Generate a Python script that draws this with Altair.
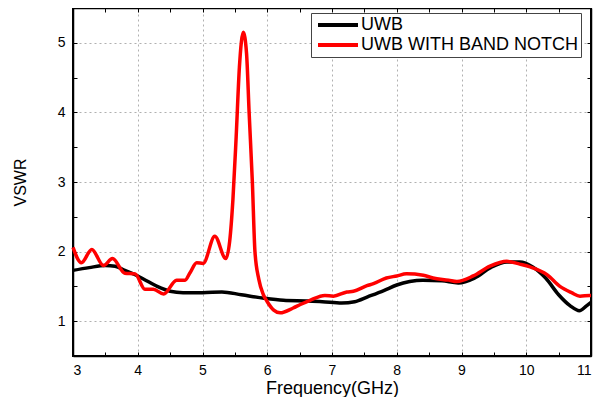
import altair as alt
import pandas as pd

series_names = ["UWB", "UWB WITH BAND NOTCH"]

uwb_freq = [3.0, 3.25, 3.5, 3.65, 3.8, 4.0, 4.1, 4.3, 4.5, 4.7, 5.0, 5.3, 5.6, 5.95,
            6.25, 6.6, 6.85, 7.15, 7.35, 7.55, 7.8, 8.0, 8.2, 8.4, 8.7, 8.95, 9.2,
            9.45, 9.7, 9.9, 10.1, 10.3, 10.5, 10.68, 10.82, 10.93, 11.0]
uwb_vswr = [1.73, 1.77, 1.80, 1.79, 1.73, 1.65, 1.60, 1.50, 1.43, 1.41, 1.41, 1.42, 1.38, 1.33,
            1.30, 1.29, 1.28, 1.26, 1.28, 1.35, 1.44, 1.52, 1.57, 1.59, 1.58, 1.55, 1.62,
            1.77, 1.85, 1.85, 1.78, 1.62, 1.38, 1.22, 1.15, 1.22, 1.27]

notch_freq = [3.0, 3.13, 3.29, 3.47, 3.61, 3.80, 3.96, 4.11, 4.24, 4.40, 4.60, 4.73, 4.81,
              4.91, 5.01, 5.19, 5.36, 5.42, 5.47, 5.52, 5.57, 5.63, 5.68, 5.72,
              5.77, 5.81, 5.87, 5.94, 6.0, 6.1, 6.2, 6.4, 6.51, 6.66, 6.89, 7.02, 7.23,
              7.33, 7.54, 7.64, 7.84, 8.0, 8.15, 8.41, 8.56, 8.8, 8.93, 9.18, 9.44, 9.7,
              9.9, 10.06, 10.32, 10.52, 10.7, 10.83, 10.98, 11.0]
notch_vswr = [2.06, 1.84, 2.03, 1.80, 1.90, 1.69, 1.68, 1.46, 1.46, 1.39, 1.59, 1.59, 1.70,
              1.84, 1.83, 2.22, 1.90, 2.15, 2.75, 3.65, 4.65, 5.15, 4.85, 4.0,
              3.0, 2.0, 1.6, 1.38, 1.28, 1.16, 1.12, 1.19, 1.24, 1.30, 1.37, 1.36, 1.42,
              1.43, 1.51, 1.54, 1.62, 1.65, 1.68, 1.66, 1.62, 1.59, 1.57, 1.65, 1.79, 1.86,
              1.82, 1.78, 1.67, 1.50, 1.41, 1.36, 1.37, 1.37]

x_ticks = [3 + 0.5 * i for i in range(17)]
y_ticks = [1 + 0.5 * i for i in range(9)]
x_major = [3, 4, 5, 6, 7, 8, 9, 10, 11]
y_major = [1, 2, 3, 4, 5]

df = pd.concat([
    pd.DataFrame({"freq": uwb_freq, "vswr": uwb_vswr, "series": series_names[0]}),
    pd.DataFrame({"freq": notch_freq, "vswr": notch_vswr, "series": series_names[1]}),
], ignore_index=True)

major_only = "datum.value % 1 === 0 ? format(datum.value, 'd') : ''"

xscale = alt.Scale(domain=[3, 11], nice=False, zero=False)
yscale = alt.Scale(domain=[0.5, 5.5], nice=False, zero=False)

lines = alt.Chart(df).mark_line(strokeWidth=3.5, interpolate="monotone").encode(
    x=alt.X("freq:Q", scale=xscale,
            axis=alt.Axis(title="Frequency(GHz)", values=x_ticks, labelExpr=major_only,
                          grid=False, tickSize={"expr": "-4"},
                          labelPadding=11, titlePadding=2, titleFontSize=18,
                          labelOverlap=False)),
    y=alt.Y("vswr:Q", scale=yscale,
            axis=alt.Axis(title="VSWR", values=y_ticks, labelExpr=major_only,
                          grid=False, tickSize={"expr": "-4"},
                          labelPadding=12, titlePadding=29, titleFontSize=16,
                          labelOverlap=False)),
    color=alt.Color("series:N",
                    scale=alt.Scale(domain=series_names, range=["#000000", "#ff0000"]),
                    legend=alt.Legend(title=None, orient="none", legendX=238, legendY=5,
                                      symbolType="M-1,0L7,0", symbolSize=100,
                                      symbolStrokeWidth=4, symbolFillColor="transparent",
                                      labelFontSize=18,
                                      labelOffset=29, padding=3, rowPadding=2,
                                      labelLimit=0,
                                      strokeColor="#444444", fillColor="#ffffff",
                                      labelColor="#000000")),
)

frame = alt.Chart(df).mark_point(opacity=0).encode(
    x=alt.X("freq:Q", scale=xscale,
            axis=alt.Axis(orient="top", values=x_major, labels=False, grid=True,
                          ticks=False, domain=False, title=None)),
    y=alt.Y("vswr:Q", scale=yscale,
            axis=alt.Axis(orient="right", values=y_major, labels=False, grid=True,
                          ticks=False, domain=False, title=None)),
)

frame2 = alt.Chart(df).mark_point(opacity=0).encode(
    x=alt.X("freq:Q", scale=xscale,
            axis=alt.Axis(orient="top", values=x_ticks, labels=False, grid=False,
                          title=None, tickSize={"expr": "-4"})),
    y=alt.Y("vswr:Q", scale=yscale,
            axis=alt.Axis(orient="right", values=y_ticks, labels=False, grid=False,
                          title=None, tickSize={"expr": "-4"})),
)

chart = alt.layer(frame, lines, frame2).resolve_axis(x="independent", y="independent").properties(
    width=518, height=348,
    autosize=alt.AutoSizeParams(type="none"),
    padding={"left": 65, "top": 0, "right": 9, "bottom": 41},
).configure(font="Liberation Sans").configure_axis(
    labelFontSize=14, labelColor="#000000", titleColor="#000000",
    titleFontWeight="normal", domainColor="#000000", domainWidth=1.5,
    tickColor="#000000", tickWidth=1, gridColor="#b0b0b0", gridDash=[2, 3],
    gridWidth=1,
).configure_view(stroke="#000000", strokeWidth=2)

chart.save("out.html", embed_options={"renderer": "svg", "actions": False})
